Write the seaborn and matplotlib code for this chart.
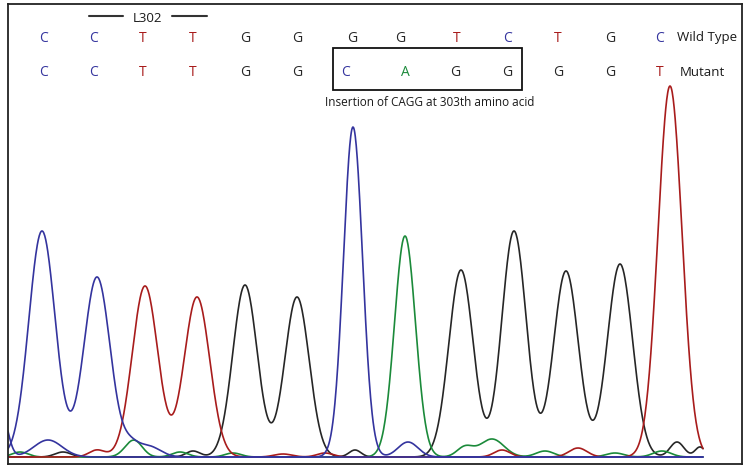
import numpy as np
import pandas as pd
import matplotlib.pyplot as plt
from matplotlib.patches import Rectangle
import seaborn as sns

sns.set_style("white")
plt.rcParams["font.family"] = ["Open Sans", "DejaVu Sans"]

COLORS = {"C": "#34349e", "T": "#a81c1c", "G": "#262626", "A": "#1b8a3a"}

# called bases (x position of each call)
wild_type = ["C", "C", "T", "T", "G", "G", "G", "G", "T", "C", "T", "G", "C"]
wild_x = [35, 85, 135, 185, 237, 289, 344, 392, 449, 500, 550, 602, 652]
mutant = ["C", "C", "T", "T", "G", "G", "C", "A", "G", "G", "G", "G", "T"]
mutant_x = [35, 85, 135, 185, 237, 289, 337, 397, 447, 499, 550, 602, 652]

# main peaks: channel, centre, height, width
peak_base = ["C", "C", "T", "T", "G", "G", "C", "A", "G", "G", "G", "G", "T"]
peak_pos = [34, 89, 137, 189, 237, 289, 345, 397, 453, 506, 558, 612, 662]
peak_height = [226, 180, 171, 160, 172, 160, 330, 221, 187, 226, 186, 193, 371]
peak_width = [13.2, 13.2, 12.8, 12.8, 12.2, 12.2, 9.5, 10.5, 12.2, 12.2, 12.4, 12.6, 12.0]

# small background bumps: series, centre, height, width
bump_base = ["C2", "C2", "C", "G", "A", "T", "A", "C", "A", "A", "G", "A", "T", "T", "G",
             "C", "A", "A", "T", "A", "T", "A", "G", "G", "A"]
bump_pos = [-6, 40, 122, 55, 12, 89, 127, 140, 172, 225, 185, 120, 275, 317, 347,
            400, 457, 484, 494, 537, 570, 607, 669, 692, 654]
bump_height = [42, 17, 10, 5, 5, 7, 14, 11, 5, 4, 6, 4, 3, 4, 7,
               15, 10, 18, 7, 6, 9, 4, 15, 10, 6]
bump_width = [6, 14, 8, 8, 8, 8, 8, 12, 8, 8, 7, 8, 9, 8, 6,
              10, 8, 12, 8, 9, 9, 9, 7, 5, 9]

x = np.linspace(0, 695, 1400)
rows = []
for series in ["C2", "C", "T", "G", "A"]:
    y = np.zeros_like(x)
    for b, p, h, w in zip(peak_base, peak_pos, peak_height, peak_width):
        if b == series:
            y += h * np.exp(-(x - p) ** 2 / (2 * w ** 2))
    for b, p, h, w in zip(bump_base, bump_pos, bump_height, bump_width):
        if b == series:
            y += h * np.exp(-(x - p) ** 2 / (2 * w ** 2))
    rows.append(pd.DataFrame({"scan": x, "signal": y, "series": series}))
trace = pd.concat(rows, ignore_index=True)

palette = dict(COLORS, C2=COLORS["C"])

fig = plt.figure(figsize=(7.5, 4.7), dpi=100)
ax = fig.add_axes([8 / 750, 6 / 470, 734 / 750, 460 / 470])
sns.lineplot(data=trace, x="scan", y="signal", hue="series", palette=palette,
             hue_order=["G", "A", "T", "C2", "C"], linewidth=1.2, legend=False, ax=ax,
             sort=False, estimator=None)
ax.set_xlim(0, 734)
ax.set_ylim(-7, 453)
ax.set_xticks([])
ax.set_yticks([])
ax.set_xlabel("")
ax.set_ylabel("")
for s in ax.spines.values():
    s.set_color("#222222")
    s.set_linewidth(1.3)

for b, px in zip(wild_type, wild_x):
    ax.text(px, 419, b, color=COLORS[b], fontsize=10, ha="center", va="center")
for b, px in zip(mutant, mutant_x):
    ax.text(px, 385, b, color=COLORS[b], fontsize=10, ha="center", va="center")
ax.text(669, 419, "Wild Type", fontsize=9.5, ha="left", va="center", color="#1a1a1a")
ax.text(672, 385, "Mutant", fontsize=9.5, ha="left", va="center", color="#1a1a1a")

ax.text(140, 439, "L302", fontsize=9.5, ha="center", va="center", color="#1a1a1a")
ax.plot([81, 115], [441, 441], color="#333333", lw=1.5)
ax.plot([164, 199], [441, 441], color="#333333", lw=1.5)

ax.add_patch(Rectangle((325, 367), 189, 42, fill=False, edgecolor="#111111", lw=1.3))
ax.text(422, 355, "Insertion of CAGG at 303th amino acid", fontsize=8.5,
        ha="center", va="center", color="#1a1a1a")

fig.savefig("out.png", dpi=100)
